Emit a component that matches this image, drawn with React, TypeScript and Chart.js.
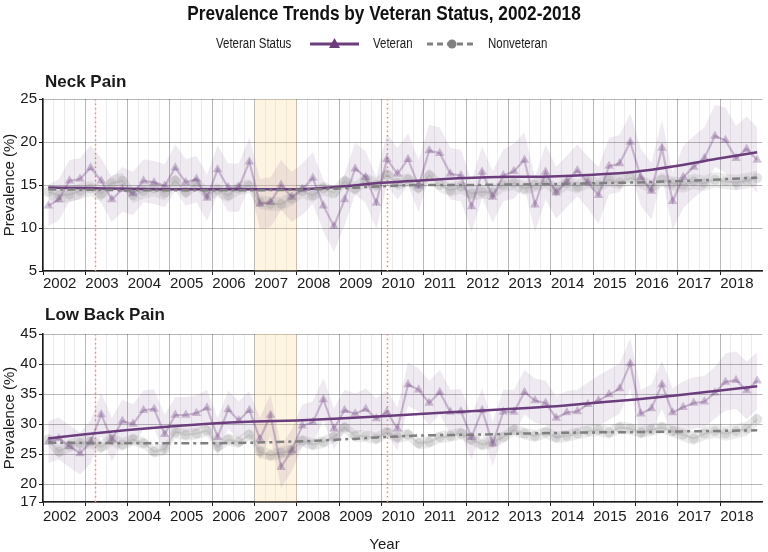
import React, { useEffect, useRef } from "react";
import { Chart, registerables } from "chart.js";

Chart.register(...registerables);

// ---------- data ----------
const YEARS = [2002, 2003, 2004, 2005, 2006, 2007, 2008, 2009, 2010, 2011, 2012, 2013, 2014, 2015, 2016, 2017, 2018];
const QUARTER_POS = [0.125, 0.375, 0.625, 0.875]; // mid-quarter positions
const TREND_X = [2002.125, 2003, 2004, 2005, 2006, 2007, 2008, 2009, 2010, 2011, 2012, 2013, 2014, 2015, 2016, 2017, 2018, 2018.875];
const SHADED_PERIOD = [2007, 2008];
const EVENT_DATES = [2003.22, 2010.125];
const NECK_Y_TICKS = [5, 10, 15, 20, 25];
const LBP_Y_TICKS = [17, 20, 25, 30, 35, 40, 45];

const neckVeteran = [
  12.6, 13.3, 15.5, 15.7,
  17.0, 15.5, 13.3, 14.5,
  14.0, 15.5, 15.3, 14.9,
  17.0, 15.3, 15.7, 13.5,
  16.8, 14.7, 14.7, 17.7,
  12.8, 13.0, 15.0, 13.6,
  14.5, 15.8, 12.6, 10.2,
  13.3, 16.9, 15.9, 12.9,
  18.0, 16.3, 18.0, 14.9,
  19.0, 18.7, 16.3, 16.1,
  12.5, 16.5, 13.6, 16.1,
  16.6, 17.9, 12.7, 16.5,
  14.1, 15.4, 16.7, 15.3,
  13.8, 17.2, 17.5, 20.0,
  15.9, 14.3, 19.3, 13.1,
  15.9, 17.1, 18.1, 20.7,
  20.2, 18.1, 19.2, 17.9,
];
const neckVeteranCI = [2.4, 2.6, 2.5, 2.7, 2.8, 2.9, 3.0, 3.0, 3.0, 3.0, 3.0, 3.2, 3.0, 3.3, 3.3, 3.6, 3.8];
const neckNonveteran = [
  14.2, 13.8, 13.9, 14.3,
  14.6, 14.0, 15.2, 15.5,
  13.8, 14.3, 14.6, 14.1,
  15.5, 14.2, 15.2, 14.0,
  14.4, 13.8, 14.6, 14.9,
  13.0, 12.8, 12.8, 13.4,
  14.3, 13.8, 14.6, 14.1,
  15.4, 14.6, 15.6, 15.0,
  16.2, 15.2, 15.6, 14.7,
  16.1, 15.0, 14.4, 14.8,
  14.0, 14.2, 14.1, 15.0,
  15.2, 14.6, 15.0, 15.4,
  14.4, 15.2, 14.8, 15.4,
  15.0, 15.6, 15.3, 15.8,
  15.4, 14.8, 15.6, 15.2,
  15.0, 15.4, 15.2, 15.6,
  15.4, 15.3, 15.5, 15.8,
];
const neckNonveteranCI = [0.9, 0.9, 0.9, 0.8, 0.8, 0.8, 0.8, 0.8, 0.8, 0.8, 0.8, 0.8, 0.8, 0.8, 0.8, 0.9, 0.9];
const neckVeteranTrend = [14.7, 14.65, 14.55, 14.5, 14.5, 14.5, 14.5, 14.8, 15.25, 15.55, 15.8, 15.95, 16.0, 16.2, 16.55, 17.25, 18.1, 18.8];
const neckNonveteranTrend = [14.5, 14.45, 14.4, 14.4, 14.4, 14.4, 14.45, 14.6, 14.85, 15.0, 15.0, 15.05, 15.1, 15.2, 15.3, 15.45, 15.65, 15.85];

const lbpVeteran = [
  27.0, 27.6, 26.3, 25.1,
  27.0, 31.6, 27.4, 30.5,
  30.0, 32.3, 32.5, 28.3,
  31.5, 31.5, 31.8, 32.7,
  27.8, 32.4, 30.6, 32.3,
  27.5, 31.5, 22.8, 25.6,
  29.7, 30.3, 34.1, 29.2,
  32.3, 31.7, 32.5, 30.9,
  32.0, 29.2, 36.6, 35.7,
  33.5, 35.3, 32.0, 32.1,
  27.8, 32.3, 26.7, 32.0,
  32.0, 35.3, 33.9, 33.5,
  31.0, 31.9, 32.1, 33.3,
  33.9, 34.9, 35.9, 40.1,
  31.7, 32.6, 36.6, 31.9,
  32.8, 33.5, 33.7, 35.2,
  37.0, 37.3, 35.6, 37.2,
];
const lbpVeteranCI = [3.5, 3.6, 3.3, 3.0, 3.2, 3.5, 3.5, 3.4, 3.6, 3.7, 3.7, 3.7, 3.6, 4.2, 4.0, 4.3, 4.8];
const lbpNonveteran = [
  27.4, 25.4, 26.4, 26.8,
  27.0, 26.2, 27.4, 26.6,
  27.4, 26.8, 25.4, 25.8,
  28.6, 28.2, 28.4, 28.9,
  26.2, 27.4, 27.0, 28.2,
  25.4, 24.8, 25.2, 25.6,
  27.2, 26.6, 27.0, 27.8,
  29.4, 28.0, 28.0, 27.6,
  28.6, 27.8, 28.2, 26.8,
  27.0, 27.8, 28.0, 28.4,
  27.4, 26.6, 27.0, 27.8,
  29.0, 28.4, 28.0, 28.6,
  27.8, 28.0, 28.4, 28.8,
  29.0, 28.6, 29.4, 29.2,
  28.6, 29.0, 29.4, 28.8,
  28.2, 27.6, 28.4, 28.8,
  28.4, 28.8, 29.2, 30.8,
];
const lbpNonveteranCI = [1.1, 1.1, 1.0, 1.0, 1.0, 1.0, 1.0, 1.0, 1.0, 1.0, 1.0, 1.0, 1.0, 1.0, 1.0, 1.1, 1.2];
const lbpVeteranTrend = [27.6, 28.3, 29.0, 29.6, 30.1, 30.4, 30.6, 30.9, 31.3, 31.7, 32.1, 32.5, 32.9, 33.5, 34.1, 34.8, 35.6, 36.3];
const lbpNonveteranTrend = [26.9, 26.85, 26.8, 26.8, 26.8, 26.9, 27.1, 27.4, 27.8, 28.1, 28.2, 28.35, 28.5, 28.6, 28.65, 28.75, 28.85, 28.95];

// ---------- style ----------
const FONT = '"Liberation Sans", Arial, Helvetica, sans-serif';
const INK = "#1a1a1a";
const PURPLE = "#6b3d7d";
const PURPLE_RAW = "rgba(107,61,125,0.30)";
const PURPLE_BAND = "rgba(107,61,125,0.11)";
const GRAY = "#808080";
const GRAY_RAW = "rgba(128,128,128,0.20)";
const GRAY_RAW_PT = "rgba(128,128,128,0.22)";
const GRAY_BAND = "rgba(128,128,128,0.15)";
const NON_DASH = [8, 4, 3, 4];

const QX = YEARS.flatMap((y) => QUARTER_POS.map((q) => y + q));
const X_GRID = YEARS.flatMap((y) => [0, 0.25, 0.5, 0.75].map((q) => y + q)).concat([2019]);

function pts(vals: number[]) {
  return vals.map((v, i) => ({ x: QX[i], y: v }));
}
function band(vals: number[], ci: number[], sign: number) {
  return vals.map((v, i) => ({ x: QX[i], y: v + sign * ci[Math.floor(i / 4)] }));
}
function trend(vals: number[]) {
  return vals.map((v, i) => ({ x: TREND_X[i], y: v }));
}

function text(ctx: CanvasRenderingContext2D, s: string, x: number, y: number, font: string, align: CanvasTextAlign, sx = 1, color = INK) {
  ctx.save();
  ctx.font = font;
  ctx.fillStyle = color;
  ctx.textAlign = align;
  ctx.textBaseline = "middle";
  ctx.translate(x, y);
  ctx.scale(sx, 1);
  ctx.fillText(s, 0, 0);
  ctx.restore();
}

function drawHeader(ctx: CanvasRenderingContext2D) {
  text(ctx, "Prevalence Trends by Veteran Status, 2002-2018", 384, 14, `bold 21px ${FONT}`, "center", 0.82, "#111");
  const ly = 44;
  text(ctx, "Veteran Status", 216, ly, `14px ${FONT}`, "left", 0.82);
  // Veteran key
  ctx.save();
  ctx.strokeStyle = PURPLE;
  ctx.lineWidth = 3;
  ctx.beginPath();
  ctx.moveTo(310, ly);
  ctx.lineTo(359, ly);
  ctx.stroke();
  ctx.fillStyle = PURPLE;
  ctx.beginPath();
  ctx.moveTo(334.5, ly - 6);
  ctx.lineTo(340, ly + 4);
  ctx.lineTo(329, ly + 4);
  ctx.closePath();
  ctx.fill();
  // Nonveteran key
  ctx.strokeStyle = GRAY;
  ctx.setLineDash([6, 4]);
  ctx.beginPath();
  ctx.moveTo(427, ly);
  ctx.lineTo(476, ly);
  ctx.stroke();
  ctx.setLineDash([]);
  ctx.fillStyle = GRAY;
  ctx.beginPath();
  ctx.arc(452, ly, 4.5, 0, Math.PI * 2);
  ctx.fill();
  ctx.restore();
  text(ctx, "Veteran", 373, ly, `14px ${FONT}`, "left", 0.82);
  text(ctx, "Nonveteran", 488, ly, `14px ${FONT}`, "left", 0.82);
  text(ctx, "Neck Pain", 45, 82, `bold 17px ${FONT}`, "left");
}

function drawBottomText(ctx: CanvasRenderingContext2D) {
  text(ctx, "Low Back Pain", 45, 25, `bold 17px ${FONT}`, "left");
  text(ctx, "Year", 384.5, 255, `15px ${FONT}`, "center");
}

function decorPlugin(drawText: (ctx: CanvasRenderingContext2D) => void) {
  return {
    id: "decor",
    beforeDatasetsDraw(chart: any) {
      const { ctx, chartArea: a, scales } = chart;
      const x = scales.x;
      ctx.save();
      ctx.beginPath();
      ctx.rect(a.left, a.top, a.right - a.left, a.bottom - a.top);
      ctx.clip();
      const x0 = x.getPixelForValue(SHADED_PERIOD[0]);
      const x1 = x.getPixelForValue(SHADED_PERIOD[1]);
      ctx.fillStyle = "rgba(253,214,146,0.27)";
      ctx.fillRect(x0, a.top, x1 - x0, a.bottom - a.top);
      ctx.strokeStyle = "#f08f6a";
      ctx.lineWidth = 1.5;
      ctx.setLineDash([1.5, 3]);
      EVENT_DATES.forEach((d) => {
        const px = Math.round(x.getPixelForValue(d)) + 0.5;
        ctx.beginPath();
        ctx.moveTo(px, a.top);
        ctx.lineTo(px, a.bottom);
        ctx.stroke();
      });
      ctx.restore();
    },
    afterDraw(chart: any) {
      drawText(chart.ctx);
    },
  };
}

type PanelSpec = {
  yMin: number;
  yMax: number;
  yTicks: number[];
  vet: number[];
  vetCI: number[];
  non: number[];
  nonCI: number[];
  vetTrend: number[];
  nonTrend: number[];
  padTop: number;
  xHeight: number;
  xPad: number;
  drawText: (ctx: CanvasRenderingContext2D) => void;
};

function isYear(v: number) {
  return Math.abs(v - Math.round(v)) < 1e-6;
}

function buildConfig(p: PanelSpec): any {
  const datasets: any[] = [
    { label: "Veteran CI upper", data: band(p.vet, p.vetCI, 1), borderColor: "transparent", borderWidth: 0, pointRadius: 0, fill: "+1", backgroundColor: PURPLE_BAND, order: 3 },
    { label: "Veteran CI lower", data: band(p.vet, p.vetCI, -1), borderColor: "transparent", borderWidth: 0, pointRadius: 0, fill: false, order: 3 },
    { label: "Nonveteran CI upper", data: band(p.non, p.nonCI, 1), borderColor: "transparent", borderWidth: 0, pointRadius: 0, fill: "+1", backgroundColor: GRAY_BAND, order: 3 },
    { label: "Nonveteran CI lower", data: band(p.non, p.nonCI, -1), borderColor: "transparent", borderWidth: 0, pointRadius: 0, fill: false, order: 3 },
    {
      label: "Nonveteran quarterly",
      data: pts(p.non),
      borderColor: GRAY_RAW,
      borderWidth: 2,
      pointStyle: "circle",
      pointRadius: 5,
      pointBackgroundColor: GRAY_RAW_PT,
      pointBorderWidth: 0,
      fill: false,
      order: 2,
    },
    {
      label: "Veteran quarterly",
      data: pts(p.vet),
      borderColor: PURPLE_RAW,
      borderWidth: 2.2,
      pointStyle: "triangle",
      pointRadius: 5.5,
      pointBackgroundColor: PURPLE_RAW,
      pointBorderWidth: 0,
      fill: false,
      order: 1,
    },
    {
      label: "Nonveteran",
      data: trend(p.nonTrend),
      borderColor: GRAY,
      borderWidth: 2.5,
      borderDash: NON_DASH,
      pointRadius: 0,
      cubicInterpolationMode: "monotone",
      fill: false,
      order: 0,
    },
    {
      label: "Veteran",
      data: trend(p.vetTrend),
      borderColor: PURPLE,
      borderWidth: 2.5,
      pointRadius: 0,
      cubicInterpolationMode: "monotone",
      fill: false,
      order: 0,
    },
  ];

  return {
    type: "line",
    data: { datasets },
    options: {
      animation: false,
      responsive: false,
      events: [],
      layout: { padding: { top: p.padTop, right: 2.5, bottom: 0, left: 0 } },
      plugins: { legend: { display: false }, tooltip: { enabled: false }, title: { display: false } },
      scales: {
        x: {
          type: "linear",
          min: 2002,
          max: 2019,
          afterBuildTicks: (s: any) => {
            s.ticks = X_GRID.map((v) => ({ value: v }));
          },
          afterFit: (s: any) => {
            s.height = p.xHeight;
          },
          ticks: {
            autoSkip: false,
            maxRotation: 0,
            minRotation: 0,
            align: "start",
            padding: p.xPad,
            font: { family: FONT, size: 15 },
            color: INK,
            callback: (v: any) => (YEARS.includes(Number(v)) ? String(v) : ""),
          },
          grid: {
            color: (c: any) => {
              const v = c.tick ? c.tick.value : 0;
              if (v >= 2019) return "transparent";
              return isYear(v) ? "rgba(0,0,0,0.28)" : "rgba(0,0,0,0.08)";
            },
            tickColor: (c: any) => {
              const v = c.tick ? c.tick.value : 0;
              return isYear(v) && v < 2019 ? INK : "transparent";
            },
            tickLength: 4,
            lineWidth: 1,
          },
          border: { display: true, color: INK, width: 1.5 },
        },
        y: {
          type: "linear",
          min: p.yMin,
          max: p.yMax,
          afterBuildTicks: (s: any) => {
            s.ticks = p.yTicks.map((v) => ({ value: v }));
          },
          afterFit: (s: any) => {
            s.width = 43;
          },
          ticks: { font: { family: FONT, size: 15 }, color: INK, padding: 2 },
          grid: { color: "rgba(0,0,0,0.28)", tickColor: INK, tickLength: 4, lineWidth: 1 },
          border: { display: true, color: INK, width: 1.5 },
          title: {
            display: true,
            text: "Prevalence (%)",
            font: { family: FONT, size: 15, lineHeight: 1 },
            padding: { top: 2, bottom: 0 },
            color: INK,
          },
        },
      },
    },
    plugins: [decorPlugin(p.drawText)],
  };
}

export default function App() {
  const topRef = useRef<HTMLCanvasElement | null>(null);
  const botRef = useRef<HTMLCanvasElement | null>(null);

  useEffect(() => {
    document.body.style.margin = "0";
    const top = new Chart(
      topRef.current as HTMLCanvasElement,
      buildConfig({
        yMin: 5,
        yMax: 25,
        yTicks: NECK_Y_TICKS,
        vet: neckVeteran,
        vetCI: neckVeteranCI,
        non: neckNonveteran,
        nonCI: neckNonveteranCI,
        vetTrend: neckVeteranTrend,
        nonTrend: neckNonveteranTrend,
        padTop: 99,
        xHeight: 19,
        xPad: 0,
        drawText: drawHeader,
      })
    );
    const bottom = new Chart(
      botRef.current as HTMLCanvasElement,
      buildConfig({
        yMin: 17,
        yMax: 45,
        yTicks: LBP_Y_TICKS,
        vet: lbpVeteran,
        vetCI: lbpVeteranCI,
        non: lbpNonveteran,
        nonCI: lbpNonveteranCI,
        vetTrend: lbpVeteranTrend,
        nonTrend: lbpNonveteranTrend,
        padTop: 44,
        xHeight: 50,
        xPad: 2,
        drawText: drawBottomText,
      })
    );
    return () => {
      top.destroy();
      bottom.destroy();
    };
  }, []);

  return (
    <div style={{ position: "absolute", left: 0, top: 0, width: 768, height: 552, background: "#ffffff" }}>
      <canvas ref={topRef} width={768} height={290} style={{ display: "block" }} />
      <canvas ref={botRef} width={768} height={262} style={{ display: "block" }} />
    </div>
  );
}
